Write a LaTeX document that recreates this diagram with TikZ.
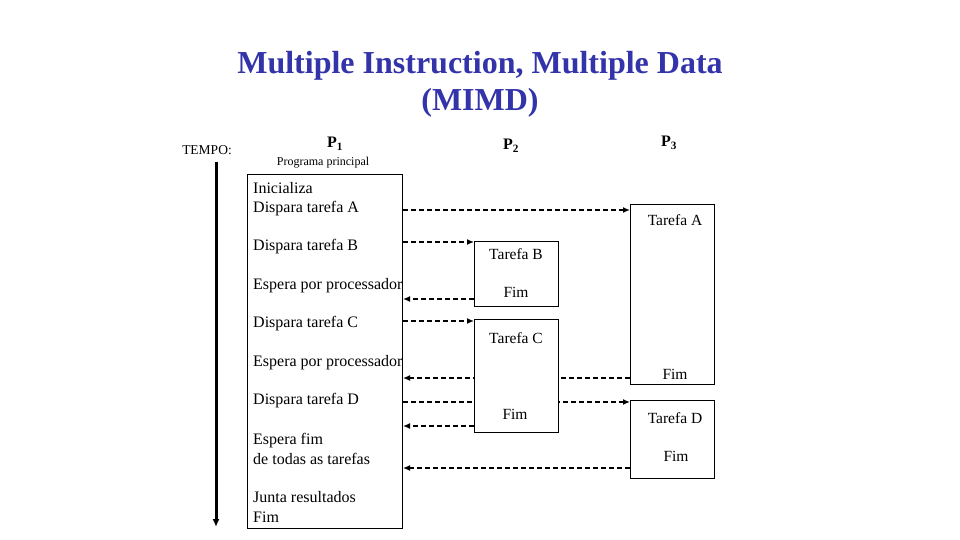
\documentclass[tikz,border=0pt]{standalone}
\usepackage{fontspec}
\setmainfont{Liberation Serif}
\usetikzlibrary{arrows.meta,calc}
\definecolor{titleblue}{RGB}{51,51,170}
\begin{document}
\begin{tikzpicture}[x=1pt,y=-1pt,
  box/.style={draw=black,line width=1pt,fill=white,inner sep=0pt,anchor=north west},
  txt/.style={inner sep=0pt,font=\fontsize{15.5}{20}\selectfont},
  ltxt/.style={txt,anchor=west,align=left,font=\fontsize{16}{19.5}\selectfont},
  plabel/.style={inner sep=0pt,font=\fontsize{16}{18}\selectfont\bfseries},
  dasharrow/.style={line width=2.5pt,dash pattern=on 5pt off 3pt,-{Latex[length=7pt,width=6pt]}},
]
\useasboundingbox (0,0) rectangle (960,540);
% title
\node[inner sep=0pt,text=titleblue,font=\fontsize{32}{37}\selectfont\bfseries,align=center] (title) at (480,84) {Multiple Instruction, Multiple Data\\(MIMD)};
% headings
\node[inner sep=0pt,font=\fontsize{13.5}{16}\selectfont] (tempo) at (207,150) {TEMPO:};
\node[plabel] (p1) at (335,144) {P\textsubscript{1}};
\node[plabel] (p2) at (511,146) {P\textsubscript{2}};
\node[plabel] (p3) at (669,143) {P\textsubscript{3}};
\node[inner sep=0pt,font=\fontsize{12}{14}\selectfont] (prog) at (323,163) {Programa principal};
% time axis
\coordinate (t0) at (216,162);
\coordinate (t1) at (216,527);
\draw[line width=3pt,-{Latex[length=8pt,width=7pt]}] (t0) -- (t1);
% P1 box
\node[box,minimum width=155pt,minimum height=354pt] (p1box) at (247,174) {};
\node[ltxt] (s1) at (253,199) {Inicializa\\Dispara tarefa A};
\node[ltxt] (s2) at (253,247) {Dispara tarefa B};
\node[ltxt] (s3) at (253,286) {Espera por processador};
\node[ltxt] (s4) at (253,324) {Dispara tarefa C};
\node[ltxt] (s5) at (253,363) {Espera por processador};
\node[ltxt] (s6) at (253,401) {Dispara tarefa D};
\node[ltxt] (s7) at (253,449) {Espera fim\\de todas as tarefas};
\node[ltxt] (s8) at (253,507) {Junta resultados\\Fim};
% P3 boxes
\node[box,minimum width=84pt,minimum height=180pt] (boxA) at (630,204) {};
\node[box,minimum width=84pt,minimum height=78pt] (boxD) at (630,400) {};
% P2 box B
\node[box,minimum width=84pt,minimum height=65pt] (boxB) at (474,241) {};
% connectors
\draw[dasharrow] (p1box.east |- 0,210) -- (boxA.west |- 0,210);
\draw[dasharrow] (p1box.east |- 0,242) -- (boxB.west |- 0,242);
\draw[dasharrow] (boxB.west |- 0,299) -- (p1box.east |- 0,299);
\draw[dasharrow] (p1box.east |- 0,321) -- (474,321);
\draw[dasharrow] (boxA.west |- 0,378) -- (p1box.east |- 0,378);
\draw[dasharrow] (p1box.east |- 0,402) -- (boxD.west |- 0,402);
\draw[dasharrow] (474,426) -- (p1box.east |- 0,426);
\draw[dasharrow] (boxD.west |- 0,468) -- (p1box.east |- 0,468);
% P2 box C (on top of passing lines)
\node[box,minimum width=84pt,minimum height=113pt] (boxC) at (474,319) {};
% box texts
\node[txt] (ta) at (675,220) {Tarefa A};
\node[txt] (fa) at (675,374) {Fim};
\node[txt] (tb) at (516,254) {Tarefa B};
\node[txt] (fb) at (516,292) {Fim};
\node[txt] (tc) at (516,338) {Tarefa C};
\node[txt] (fc) at (515,414) {Fim};
\node[txt] (td) at (675,418) {Tarefa D};
\node[txt] (fd) at (676,456) {Fim};
\end{tikzpicture}
\end{document}
